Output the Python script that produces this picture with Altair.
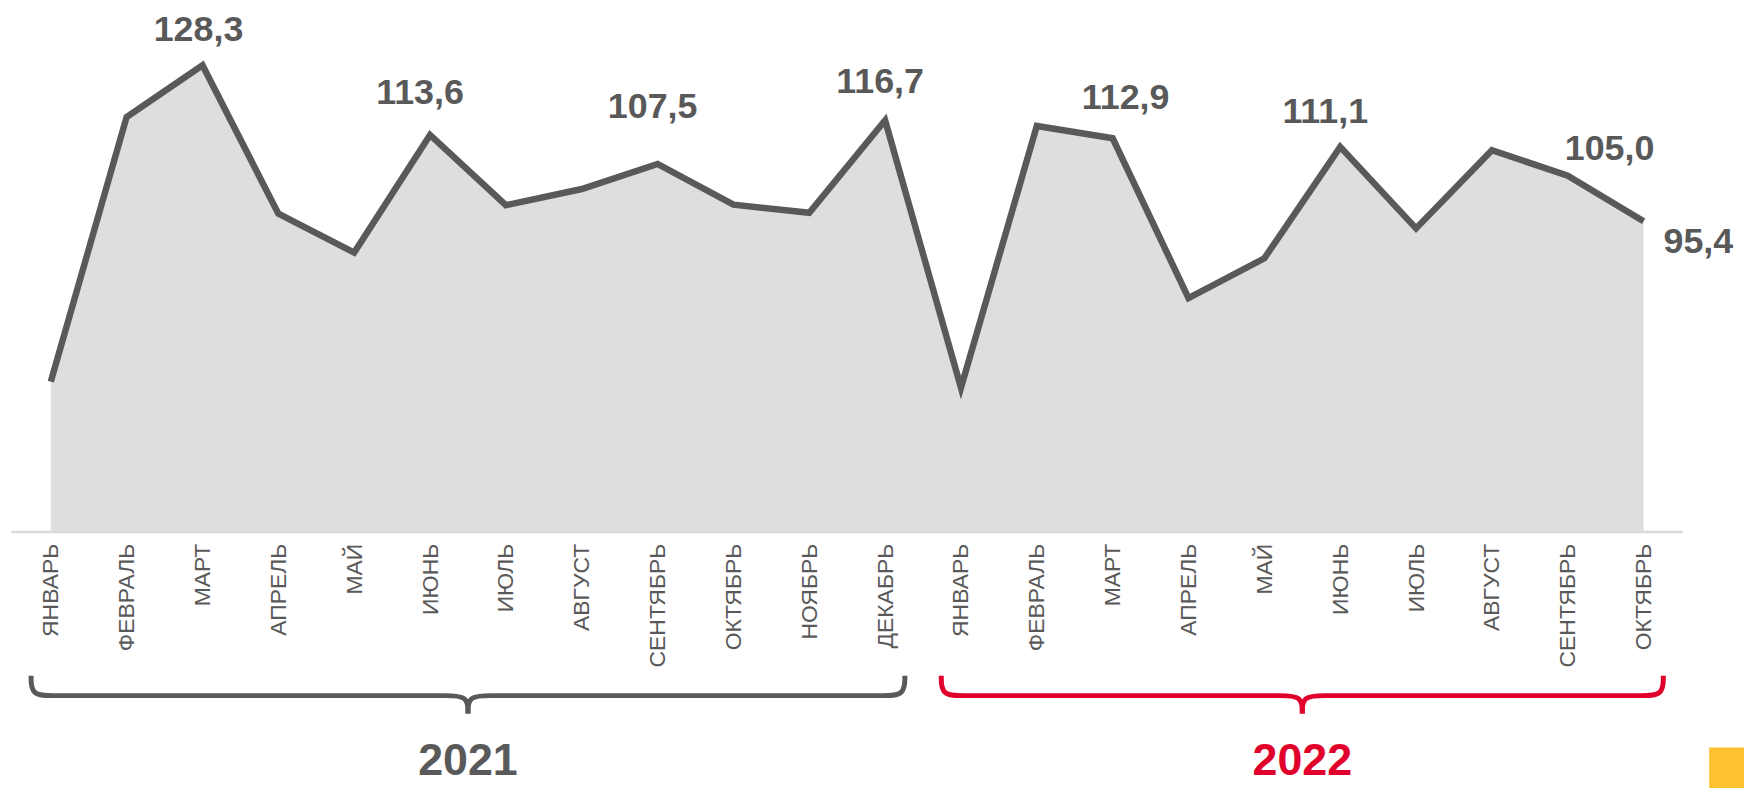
import altair as alt
import pandas as pd

# ---------------- data ----------------
MONTHS = ["ЯНВАРЬ", "ФЕВРАЛЬ", "МАРТ", "АПРЕЛЬ", "МАЙ", "ИЮНЬ", "ИЮЛЬ",
          "АВГУСТ", "СЕНТЯБРЬ", "ОКТЯБРЬ", "НОЯБРЬ", "ДЕКАБРЬ"]
YEARS = ["2021", "2022"]
VALUES_2021 = [61.6, 117.4, 128.3, 97.0, 88.8, 113.6, 98.8, 102.2, 107.5, 98.9, 97.2, 116.7]
VALUES_2022 = [60.3, 115.5, 112.9, 79.2, 87.6, 111.1, 93.9, 110.4, 105.0, 95.4]
LABELED_POINTS = [2, 5, 8, 11, 14, 17, 20, 21]   # indices whose value is printed

# ---------------- styles ----------------
GRAY = "#595959"
RED = "#E0002B"
FILL = "#DEDEDE"
AXIS_GRAY = "#D9D9D9"
YELLOW = "#FEC12F"
FONT = "Liberation Sans"

W, H = 1679, 524
Y_MIN, Y_MAX = 30, 140
X_DOMAIN = [-0.525, 21.51]

# label offsets (dx, dy, align) per labelled index
LABEL_STYLE = {
    2: (-4, -35, "center"),
    5: (-10, -42, "center"),
    8: (-5, -57, "center"),
    11: (-5, -38, "center"),
    14: (13, -40, "center"),
    17: (-15, -35, "center"),
    20: (42, -27, "center"),
    21: (20, 21, "left"),
}

# brace geometry (pixels below plot top) and shape
BR_TOP, BR_BASE, BR_CUSP = 669, 689, 707
BR_EXT, BR_R, BR_R2 = 0.26, 0.30, 0.30

# ---------------- tables ----------------
values = VALUES_2021 + VALUES_2022
tick_labels = MONTHS + MONTHS[:len(VALUES_2022)]
years = [YEARS[0]] * len(VALUES_2021) + [YEARS[1]] * len(VALUES_2022)
df = pd.DataFrame({
    "x": list(range(len(values))),
    "value": values,
    "month": tick_labels,
    "year": years,
    "label": [f"{v:.1f}".replace(".", ",") for v in values],
})

brace_rows = []
year_rows = []
for y in YEARS:
    idx = df.index[df["year"] == y]
    f, l = idx.min(), idx.max()
    xl, xr = f - BR_EXT, l + BR_EXT
    xm = (xl + xr) / 2
    left = [(xl, BR_TOP), (xl, BR_BASE), (xl + BR_R, BR_BASE), (xl + 2 * BR_R, BR_BASE),
            (xm - 2 * BR_R2, BR_BASE), (xm - BR_R2, BR_BASE), (xm, BR_BASE), (xm, BR_CUSP)]
    right = [(xr, BR_TOP), (xr, BR_BASE), (xr - BR_R, BR_BASE), (xr - 2 * BR_R, BR_BASE),
             (xm + 2 * BR_R2, BR_BASE), (xm + BR_R2, BR_BASE), (xm, BR_BASE), (xm, BR_CUSP)]
    for side, pts in (("L", left), ("R", right)):
        for k, (px, py) in enumerate(pts):
            brace_rows.append({"x": px, "py": py, "k": k, "grp": y + side, "year": y})
    year_rows.append({"x": xm, "year": y})
braces = pd.DataFrame(brace_rows)
year_df = pd.DataFrame(year_rows)

label_expr = "[" + ",".join(f"'{m}'" for m in tick_labels) + "][datum.value]"

x_scale = alt.Scale(domain=X_DOMAIN, nice=False, zero=False)
y_scale = alt.Scale(domain=[Y_MIN, Y_MAX], nice=False, zero=False)
year_color = alt.Color("year:N", scale=alt.Scale(domain=YEARS, range=[GRAY, RED]), legend=None)

x_axis = alt.Axis(values=list(range(len(values))), labelExpr=label_expr, labelAngle=-90,
                  labelFont=FONT, labelFontSize=23, labelColor=GRAY, labelPadding=12,
                  labelFlush=False, labelOverlap=False, labelBound=False,
                  ticks=False, tickSize=0, grid=False, domainColor=AXIS_GRAY, domainWidth=2.5)
x_enc = alt.X("x:Q", scale=x_scale, title=None, axis=x_axis)
y_main = alt.Y("value:Q", scale=y_scale, axis=None)

area = alt.Chart(df).mark_area(color=FILL).encode(x=x_enc, y=y_main, y2=alt.datum(Y_MIN))
line = alt.Chart(df).mark_line(color=GRAY, strokeWidth=6.5, strokeJoin="miter").encode(x=x_enc, y=y_main)

texts = []
for i in LABELED_POINTS:
    dx, dy, align = LABEL_STYLE[i]
    texts.append(
        alt.Chart(df).transform_filter(alt.datum.x == i)
        .mark_text(font=FONT, fontSize=36, fontWeight="bold", color=GRAY, dx=dx, dy=dy,
                   align=align, baseline="middle")
        .encode(x=x_enc, y=y_main, text="label:N")
    )

brace = alt.Chart(braces).mark_line(strokeWidth=5, interpolate="basis").encode(
    x=x_enc,
    y=alt.Y("py:Q", scale=None, axis=None),
    detail="grp:N",
    order=alt.Order("k:Q"),
    color=year_color,
)

year_text = alt.Chart(year_df).mark_text(
    font=FONT, fontSize=45, fontWeight="bold", align="center", baseline="middle"
).encode(x=x_enc, y=alt.value(755), text="year:N", color=year_color)

corner = alt.Chart(pd.DataFrame({"a": [0]})).mark_rect(color=YELLOW).encode(
    x=alt.value(1706), x2=alt.value(1745), y=alt.value(741), y2=alt.value(790)
)

chart = alt.layer(area, line, *texts, brace, year_text, corner).properties(
    width=W, height=H,
    background="white",
    autosize=alt.AutoSizeParams(type="none"),
    padding={"left": 3, "top": 0, "right": 62, "bottom": 256},
).configure_view(strokeWidth=0, stroke="transparent")

chart.save("out.html", embed_options={"renderer": "svg", "actions": False})
